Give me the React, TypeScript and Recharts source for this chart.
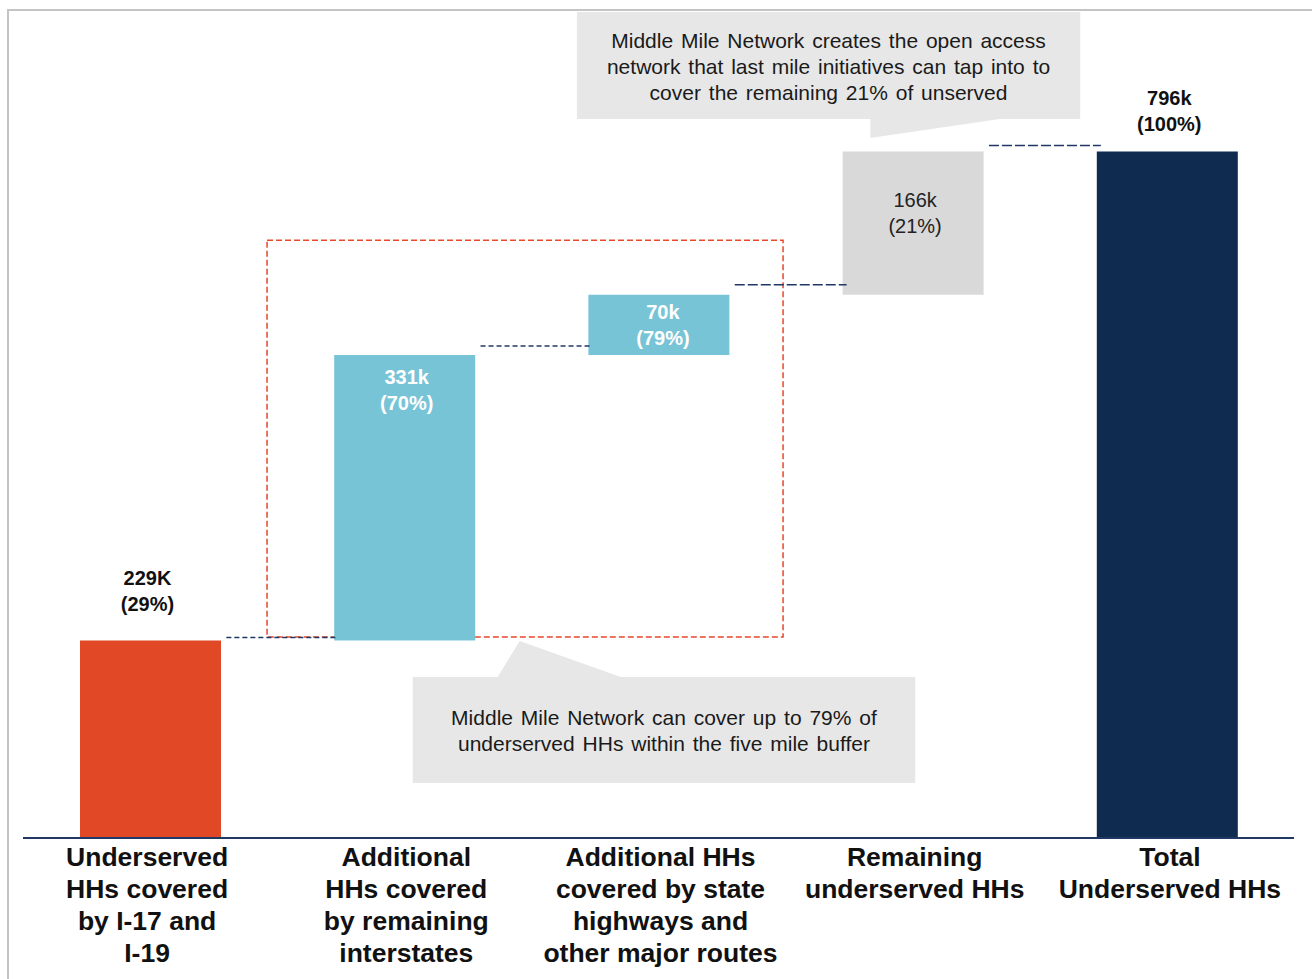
import React from 'react';
import {
  ComposedChart,
  Bar,
  XAxis,
  YAxis,
  Cell,
  LabelList,
  ReferenceArea,
  ReferenceLine,
} from 'recharts';

// ---------- data ----------
const categoryLines: string[][] = [
  ['Underserved', 'HHs covered', 'by I-17 and', 'I-19'],
  ['Additional', 'HHs covered', 'by remaining', 'interstates'],
  ['Additional HHs', 'covered by state', 'highways and', 'other major routes'],
  ['Remaining', 'underserved HHs'],
  ['Total', 'Underserved HHs'],
];
const bases = [0, 229, 560, 630, 0];
const deltas = [229, 331, 70, 166, 796];
const valueLabels = ['229K', '331k', '70k', '166k', '796k'];
const shareLabels = ['(29%)', '(70%)', '(79%)', '(21%)', '(100%)'];
const connectorLevels = [229, 560, 630, 796];
const topNote = [
  'Middle Mile Network creates the open access',
  'network that last mile initiatives can tap into to',
  'cover the remaining 21% of unserved',
];
const bottomNote = [
  'Middle Mile Network can cover up to 79% of',
  'underserved HHs within the five mile buffer',
];

// ---------- styling ----------
const barColors = ['#E04826', '#78C4D7', '#78C4D7', '#D9D9D9', '#0F2B50'];
const labelColors = ['#111111', '#FFFFFF', '#FFFFFF', '#222222', '#111111'];
const labelWeights = ['bold', 'bold', 'bold', 'normal', 'bold'];
const labelOffsets = [-62, 22, 17, 49, -53];
const labelShiftX = [-3, 2, 4, 2, 2];
const tickShiftX = [-3, 2, 2, 2, 3];
const connectorLift = [3, 9, 10, 6];
const connectorDash = ['5 3', '5 3', '10 3', '10 3'];
const FONT = '"Liberation Sans", Arial, sans-serif';

const data = deltas.map((d, i) => ({ idx: i, base: bases[i], delta: d }));

const CategoryTick = (props: any) => {
  const { x, y, payload } = props;
  const lines = categoryLines[payload.value] || [];
  const tx = x + (tickShiftX[payload.value] || 0);
  return (
    <text
      x={tx}
      y={y}
      textAnchor="middle"
      fontFamily={FONT}
      fontSize={26.5}
      fontWeight="bold"
      fill="#111111"
    >
      {lines.map((l, i) => (
        <tspan key={i} x={tx} y={y + 28 + i * 32}>
          {l}
        </tspan>
      ))}
    </text>
  );
};

const BarLabel = (props: any) => {
  const { x, y, width, index } = props;
  const cx = x + width / 2 + labelShiftX[index];
  const y0 = y + labelOffsets[index];
  return (
    <text
      textAnchor="middle"
      dominantBaseline="central"
      fontFamily={FONT}
      fontSize={20}
      fontWeight={labelWeights[index]}
      fill={labelColors[index]}
    >
      <tspan x={cx} y={y0}>
        {valueLabels[index]}
      </tspan>
      <tspan x={cx} y={y0 + 26}>
        {shareLabels[index]}
      </tspan>
    </text>
  );
};

type Tail = { edge: 'top' | 'bottom'; a: number; apex: number; b: number; len: number };

const makeCallout = (lines: string[], tail: Tail) => (props: any) => {
  const { x, y, width, height } = props;
  const edgeY = tail.edge === 'bottom' ? y + height : y;
  const apexY = tail.edge === 'bottom' ? edgeY + tail.len : edgeY - tail.len;
  const pts = [
    [x + tail.a * width, edgeY],
    [x + tail.apex * width, apexY],
    [x + tail.b * width, edgeY],
  ]
    .map((p) => p.join(','))
    .join(' ');
  const cx = x + width / 2;
  const startY = y + height / 2 - ((lines.length - 1) * 26) / 2;
  return (
    <g>
      <polygon points={pts} fill="#E7E7E7" />
      <rect x={x} y={y} width={width} height={height} fill="#E7E7E7" />
      <text
        textAnchor="middle"
        dominantBaseline="central"
        fontFamily={FONT}
        fontSize={21}
        fill="#1A1A1A"
        style={{ wordSpacing: '2px' }}
      >
        {lines.map((l, i) => (
          <tspan key={i} x={cx} y={startY + i * 26}>
            {l}
          </tspan>
        ))}
      </text>
    </g>
  );
};

const makeConnector = (lift: number, dash: string) => (props: any) => {
  const { x1, y1, x2, y2 } = props;
  return (
    <line
      x1={x1}
      y1={y1 - lift}
      x2={x2}
      y2={y2 - lift}
      stroke="#1F3864"
      strokeWidth={1.5}
      strokeDasharray={dash}
    />
  );
};

export default function App() {
  return (
    <div
      style={{
        position: 'absolute',
        left: 0,
        top: 0,
        width: 1312,
        height: 979,
        overflow: 'hidden',
        background: '#FFFFFF',
      }}
    >
      <div
        style={{
          position: 'absolute',
          left: 7,
          top: 9,
          width: 1400,
          height: 1100,
          borderTop: '2px solid #C4C4C4',
          borderLeft: '2px solid #C4C4C4',
        }}
      />
      <div style={{ position: 'absolute', left: 0, top: 0 }}>
        <ComposedChart
          width={1312}
          height={979}
          data={data}
          margin={{ top: 10, right: 18, bottom: 0, left: 23 }}
        >
          <XAxis
            dataKey="idx"
            type="number"
            domain={[-0.5, 4.5]}
            ticks={[0, 1, 2, 3, 4]}
            interval={0}
            height={141}
            tickLine={false}
            tickSize={0}
            tickMargin={0}
            axisLine={{ stroke: '#1F3864', strokeWidth: 2 }}
            tick={<CategoryTick />}
          />
          <YAxis hide domain={[0, 960]} type="number" />
          <Bar dataKey="base" stackId="w" fill="transparent" barSize={141} isAnimationActive={false} />
          <Bar dataKey="delta" stackId="w" barSize={141} isAnimationActive={false}>
            {data.map((_, i) => (
              <Cell key={i} fill={barColors[i]} />
            ))}
            <LabelList dataKey="delta" content={<BarLabel />} />
          </Bar>
          {connectorLevels.map((lvl, i) => (
            <ReferenceLine
              key={i}
              ifOverflow="visible"
              segment={[
                { x: i + 0.3, y: lvl },
                { x: i + 0.74, y: lvl },
              ]}
              shape={makeConnector(connectorLift[i], connectorDash[i])}
            />
          ))}
          <ReferenceArea
            x1={0.46}
            x2={2.49}
            y1={233}
            y2={693}
            ifOverflow="visible"
            fill="none"
            fillOpacity={0}
            stroke="#E8472A"
            strokeWidth={1.5}
            strokeDasharray="6 3"
          />
          <ReferenceArea
            x1={1.679}
            x2={3.659}
            y1={833.6}
            y2={957.7}
            ifOverflow="visible"
            shape={makeCallout(topNote, { edge: 'bottom', a: 0.583, apex: 0.583, b: 0.84, len: 19 })}
          />
          <ReferenceArea
            x1={1.033}
            x2={3.01}
            y1={63.8}
            y2={186.7}
            ifOverflow="visible"
            shape={makeCallout(bottomNote, { edge: 'top', a: 0.169, apex: 0.213, b: 0.414, len: 36 })}
          />
        </ComposedChart>
      </div>
    </div>
  );
}
